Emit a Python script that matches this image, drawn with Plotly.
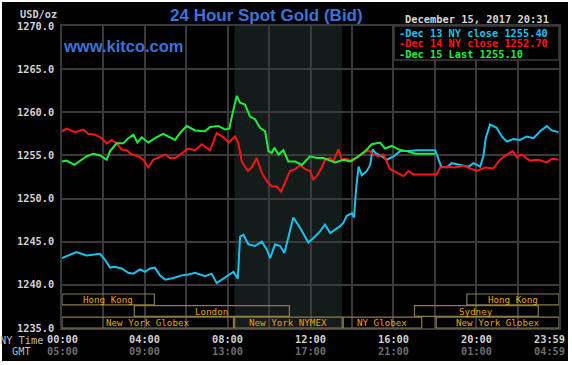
import plotly.graph_objects as go

# ---------------- data (NY time in hours, price USD/oz) ----------------
t_dec13 = [0, 0.22, 0.7, 1.19, 1.84, 2.08, 2.32, 2.56, 2.88, 3.2, 3.45, 3.77, 4.01, 4.25, 4.49,
           4.73, 4.98, 5.38, 5.78, 6.1, 6.43, 6.91, 7.23, 7.47, 7.88, 8.28, 8.49, 8.6, 8.76, 9.0,
           9.32, 9.65, 9.89, 10.05, 10.29, 10.53, 10.74, 10.93, 11.17, 11.5, 11.9, 12.22, 12.46,
           12.7, 12.95, 13.19, 13.43, 13.59, 13.75, 14.0, 14.1, 14.2, 14.32, 14.48, 14.72, 14.88,
           15.0, 15.12, 15.44, 15.68, 16.01, 16.33, 16.81, 17.13, 18.02, 18.31, 18.58, 18.82,
           19.23, 19.63, 19.87, 20.19, 20.35, 20.46, 20.67, 20.99, 21.24, 21.48, 21.8, 22.12,
           22.44, 22.77, 23.09, 23.41, 23.65, 23.98]
v_dec13 = [1243.1, 1243.3, 1243.8, 1243.4, 1243.6, 1242.9, 1242.0, 1242.1, 1241.9, 1241.4, 1241.3,
           1241.8, 1241.5, 1241.9, 1242.0, 1241.1, 1240.6, 1240.8, 1241.1, 1241.2, 1241.4, 1241.0,
           1241.3, 1240.2, 1240.9, 1241.5, 1240.7, 1245.6, 1245.8, 1244.7, 1244.5, 1245.0, 1244.1,
           1243.1, 1244.7, 1244.5, 1243.7, 1245.6, 1247.8, 1246.6, 1244.9, 1245.6, 1246.2, 1247.0,
           1246.0, 1246.4, 1246.8, 1247.2, 1248.0, 1248.3, 1247.8, 1251.0, 1253.7, 1252.7, 1253.2,
           1253.9, 1255.7, 1255.3, 1254.9, 1254.5, 1254.9, 1255.5, 1255.5, 1255.6, 1255.6, 1253.7,
           1253.6, 1254.1, 1253.9, 1253.7, 1254.1, 1253.7, 1254.9, 1257.0, 1258.6, 1258.2, 1257.2,
           1256.6, 1256.9, 1256.8, 1257.2, 1257.0, 1257.8, 1258.4, 1257.9, 1257.7]

t_dec14 = [0, 0.22, 0.63, 1.03, 1.27, 1.59, 1.92, 2.16, 2.4, 2.64, 2.88, 3.12, 3.37, 3.69, 3.93,
           4.17, 4.41, 4.73, 4.98, 5.22, 5.46, 5.7, 6.1, 6.43, 6.75, 7.15, 7.47, 7.8, 8.04, 8.36,
           8.52, 8.68, 8.97, 9.16, 9.4, 9.65, 9.89, 10.13, 10.37, 10.58, 10.77, 11.01, 11.26, 11.5,
           11.74, 11.98, 12.14, 12.3, 12.54, 12.7, 12.95, 13.1, 13.35, 13.51, 13.75, 14.0, 14.32,
           14.8, 15.04, 15.28, 15.52, 15.85, 16.17, 16.49, 16.73, 16.97, 18.1, 18.26, 18.66, 18.98,
           19.39, 19.71, 20.03, 20.43, 20.83, 21.16, 21.48, 21.77, 21.96, 22.2, 22.6, 23.01, 23.41,
           23.65, 23.98]
v_dec14 = [1257.8, 1258.1, 1257.7, 1258.0, 1257.5, 1257.4, 1257.0, 1256.4, 1256.8, 1256.4, 1255.7,
           1255.6, 1255.1, 1254.9, 1254.5, 1253.6, 1254.5, 1254.8, 1255.1, 1254.7, 1254.7, 1255.1,
           1255.8, 1255.6, 1256.3, 1255.6, 1257.6, 1257.1, 1256.5, 1257.2, 1256.4, 1254.3, 1253.2,
           1253.6, 1254.7, 1253.0, 1252.0, 1251.4, 1251.4, 1250.8, 1251.8, 1253.2, 1253.4, 1253.9,
           1253.4, 1253.2, 1252.2, 1252.6, 1253.6, 1254.5, 1254.7, 1254.3, 1255.7, 1254.5, 1254.6,
           1254.3, 1254.9, 1255.6, 1255.1, 1254.9, 1255.1, 1253.4, 1253.0, 1252.6, 1253.2, 1252.8,
           1252.8, 1253.6, 1253.7, 1253.6, 1253.8, 1253.5, 1253.2, 1253.6, 1253.5, 1254.5, 1255.1,
           1255.5, 1254.8, 1255.1, 1254.4, 1254.5, 1254.2, 1254.6, 1254.5]

t_dec15 = [0, 0.22, 0.6, 0.87, 1.19, 1.51, 1.84, 2.16, 2.32, 2.64, 2.96, 3.2, 3.45, 3.64, 3.85,
           4.17, 4.49, 4.89, 5.22, 5.46, 5.7, 6.02, 6.43, 6.91, 7.15, 7.55, 7.88, 8.08, 8.2, 8.44,
           8.6, 8.84, 9.08, 9.32, 9.56, 9.81, 9.97, 10.13, 10.26, 10.45, 10.69, 10.93, 11.26, 11.58,
           11.82, 11.98, 12.3, 12.62, 12.95, 13.19, 13.59, 13.91, 14.32, 14.64, 14.96, 15.36, 15.6,
           15.93, 16.25, 16.65, 17.05, 18.02]
v_dec15 = [1254.3, 1254.4, 1253.9, 1254.4, 1254.9, 1255.2, 1255.0, 1254.5, 1255.5, 1256.4, 1256.4,
           1257.0, 1257.4, 1256.5, 1257.1, 1256.5, 1257.0, 1257.5, 1257.1, 1256.8, 1257.6, 1258.4,
           1257.9, 1257.8, 1258.3, 1258.4, 1258.0, 1258.1, 1259.5, 1261.9, 1261.1, 1260.9, 1259.5,
           1259.2, 1258.2, 1257.8, 1255.5, 1255.3, 1255.9, 1255.1, 1255.6, 1254.3, 1254.3, 1253.9,
           1254.5, 1254.9, 1254.7, 1254.7, 1254.4, 1254.2, 1254.5, 1254.3, 1254.9, 1255.5, 1256.3,
           1256.5, 1255.8, 1256.1, 1255.7, 1255.5, 1255.2, 1255.2]

series_names = ["Dec 13 NY close 1255.40", "Dec 14 NY close 1252.70", "Dec 15 Last 1255.10"]
series_colors = ["#19c3ee", "#ff1414", "#1ef03a"]

ny_tick_vals = [0, 4, 8, 12, 16, 20, 23.983]
ny_tick_text = ["00:00", "04:00", "08:00", "12:00", "16:00", "20:00", "23:59"]
gmt_tick_text = ["05:00", "09:00", "13:00", "17:00", "21:00", "01:00", "04:59"]
y_ticks = [1235, 1240, 1245, 1250, 1255, 1260, 1265, 1270]

nymex_open, nymex_close = 8.33, 13.53

# sessions: (label, row, start hour, end hour)
sessions = [
    ("Hong Kong", 0, 0.0, 4.46),
    ("Hong Kong", 0, 19.55, 24.0),
    ("London", 1, 3.49, 10.98),
    ("Sydney", 1, 17.02, 23.0),
    ("New York Globex", 2, 0.0, 8.28),
    ("New York NYMEX", 2, 8.34, 13.53),
    ("NY Globex", 2, 13.58, 17.37),
    ("New York Globex", 2, 18.07, 24.0),
]

# ---------------- layout helpers ----------------
W, H = 572, 365
L, R, T, B = 62, 559, 26, 328


def px_x(p):
    return (p - L) / (R - L)


def px_y(p):
    return (B - p) / (B - T)


MONO = "DejaVu Sans Mono"
fig = go.Figure()

for t, v, name, col in zip([t_dec13, t_dec14, t_dec15], [v_dec13, v_dec14, v_dec15],
                           series_names, series_colors):
    fig.add_trace(go.Scatter(x=t, y=v, mode="lines", name=name,
                             line=dict(color=col, width=2), showlegend=False,
                             hoverinfo="skip"))

shapes = []
# black chart panel with thin white border
shapes.append(dict(type="rect", xref="paper", yref="paper", x0=px_x(2), x1=px_x(568),
                   y0=px_y(361), y1=px_y(2), fillcolor="black", line=dict(width=0),
                   layer="below"))
# NYMEX shading
shapes.append(dict(type="rect", xref="x", yref="paper", x0=nymex_open, x1=nymex_close,
                   y0=0, y1=1, fillcolor="#141b1b", line=dict(width=0), layer="below"))
# legend box
shapes.append(dict(type="rect", xref="paper", yref="paper", x0=px_x(394), x1=px_x(559),
                   y0=px_y(60), y1=1, fillcolor="black", line=dict(color="#3c3c3c", width=1.5),
                   layer="above"))

annotations = []
for label, row, s, e in sessions:
    top = 294 + row * 11.6
    bot = top + 10.8
    shapes.append(dict(type="rect", xref="x", yref="paper", x0=s, x1=e,
                       y0=px_y(bot), y1=px_y(top), fillcolor="rgba(0,0,0,0)",
                       line=dict(color="#8a7c48", width=1.2), layer="above"))
    annotations.append(dict(x=(s + e) / 2, y=px_y((top + bot) / 2), xref="x", yref="paper",
                            text=label, showarrow=False, xanchor="center", yanchor="middle",
                            borderpad=0,
                            font=dict(family=MONO, size=9.2, color="#e6a600")))

# x tick labels (two rows)
for i, (tv, ny, gmt) in enumerate(zip(ny_tick_vals, ny_tick_text, gmt_tick_text)):
    last = i == len(ny_tick_vals) - 1
    anc = "right" if last else "center"
    xs = 7 if last else 0
    annotations.append(dict(x=tv, y=0, xref="x", yref="paper", text=ny, showarrow=False,
                            xanchor=anc, yanchor="middle", yshift=-11, xshift=xs, borderpad=0,
                            font=dict(family=MONO, size=10.3, color="#d2d2d2", weight="bold")))
    annotations.append(dict(x=tv, y=0, xref="x", yref="paper", text=gmt, showarrow=False,
                            xanchor=anc, yanchor="middle", yshift=-22.7, xshift=xs, borderpad=0,
                            font=dict(family=MONO, size=10.3, color="#6e6e6e", weight="bold")))

annotations.append(dict(x=px_x(44), y=px_y(340), xref="paper", yref="paper", text="NY Time",
                        showarrow=False, xanchor="right", yanchor="middle", borderpad=0,
                        font=dict(family=MONO, size=10.3, color="#bdbdbd")))
annotations.append(dict(x=px_x(21), y=px_y(351), xref="paper", yref="paper", text="GMT",
                        showarrow=False, xanchor="center", yanchor="middle", borderpad=0,
                        font=dict(family=MONO, size=10.3, color="#bdbdbd")))
annotations.append(dict(x=px_x(58), y=px_y(14), xref="paper", yref="paper", text="USD/oz",
                        showarrow=False, xanchor="right", yanchor="middle", borderpad=0,
                        font=dict(family=MONO, size=10.3, color="#cfcfcf", weight="bold")))

# titles
annotations.append(dict(x=px_x(266.5), y=px_y(15.5), xref="paper", yref="paper",
                        text="24 Hour Spot Gold (Bid)", showarrow=False, xanchor="center",
                        yanchor="middle", borderpad=0,
                        font=dict(family="Liberation Sans", size=17, color="#3d72dc",
                                  weight="bold")))
annotations.append(dict(x=px_x(62), y=px_y(45.5), xref="paper", yref="paper",
                        text="www.kitco.com", showarrow=False, xanchor="left", yanchor="middle",
                        borderpad=0,
                        font=dict(family="Liberation Sans", size=16.5, color="#3d72dc",
                                  weight="bold")))
annotations.append(dict(x=px_x(476.5), y=px_y(19.5), xref="paper", yref="paper",
                        text="December 15, 2017 20:31", showarrow=False, xanchor="center",
                        yanchor="middle", borderpad=0,
                        font=dict(family=MONO, size=10.4, color="#d6d6d6", weight="bold")))

# legend text
for i, (name, col) in enumerate(zip(series_names, series_colors)):
    annotations.append(dict(x=px_x(398), y=px_y(32.5 + i * 10.8), xref="paper", yref="paper",
                            text="-" + name, showarrow=False, xanchor="left", yanchor="middle",
                            borderpad=0,
                            font=dict(family=MONO, size=10.3, color=col, weight="bold")))

fig.update_layout(
    width=W, height=H,
    margin=dict(l=L, r=W - R, t=T, b=H - B),
    paper_bgcolor="white", plot_bgcolor="black",
    shapes=shapes, annotations=annotations,
    showlegend=False,
    xaxis=dict(range=[0, 24], tickvals=[0, 2, 4, 6, 8, 10, 12, 14, 16, 18, 20, 22, 24],
               showticklabels=False, showgrid=True, gridcolor="#3a3a3a", gridwidth=1.5,
               zeroline=False, showline=True, linecolor="#3a3a3a", linewidth=1.5, mirror=True,
               fixedrange=True),
    yaxis=dict(range=[1235, 1270], tickvals=y_ticks, tickformat=".1f", showgrid=True,
               gridcolor="#3a3a3a", gridwidth=1.5, zeroline=False, showline=True,
               linecolor="#3a3a3a", linewidth=1.5, mirror=True, ticks="",
               ticklabelstandoff=4,
               tickfont=dict(family=MONO, size=10.3, color="#d2d2d2", weight="bold"),
               fixedrange=True),
)

fig.write_html("out.html", config={"displayModeBar": False},
               post_script="document.body.style.margin='0';document.body.style.overflow='hidden';")
